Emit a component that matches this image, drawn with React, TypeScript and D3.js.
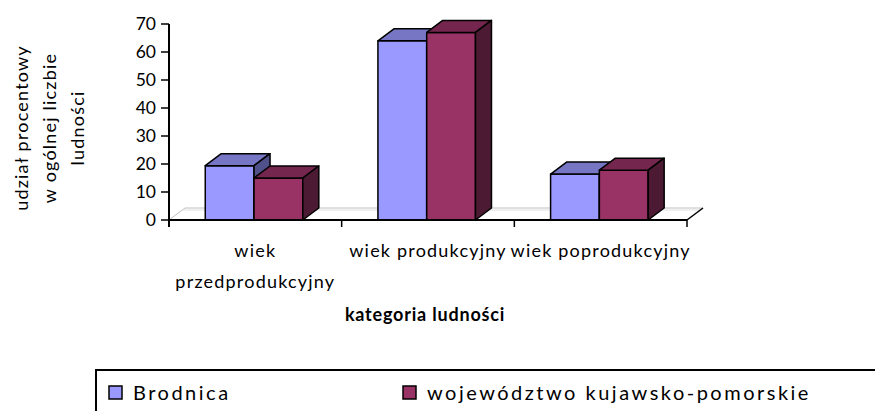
import React from "react";
import * as d3 from "d3";

const categories = ["wiek przedprodukcyjny", "wiek produkcyjny", "wiek poprodukcyjny"];
const categoryLines = [["wiek", "przedprodukcyjny"], ["wiek produkcyjny"], ["wiek poprodukcyjny"]];
const seriesNames = ["Brodnica", "województwo kujawsko-pomorskie"];
const brodnica = [19.4, 64.0, 16.4];
const kujawskoPomorskie = [15.0, 67.0, 17.8];
const yTicks = [0, 10, 20, 30, 40, 50, 60, 70];
const yTitle = ["udział procentowy", "w ogólnej liczbie", "ludności"];
const xTitle = "kategoria ludności";

const FONT = "Lato, 'Open Sans', sans-serif";
const W = 875;
const H = 411;
const left = 169;
const right = 687;
const top = 24;
const bottom = 220;
const DX = 16; // 3d depth
const DY = 12;

const palette = [
  { front: "#9999FF", top: "#7676C4", side: "#50508A" },
  { front: "#993366", top: "#74264F", side: "#4D1A33" },
];

export default function App() {
  const values = [brodnica, kujawskoPomorskie];

  const x = d3.scaleBand().domain(categories).range([left, right]);
  const bw = x.bandwidth();
  const inner = d3.scaleBand().domain(seriesNames).range([bw * 0.21, bw * 0.775]);
  const y = d3.scaleLinear().domain([0, 70]).range([bottom, top]);
  const y0 = y(0);

  const pts = (p: number[][]) => p.map((d) => d.join(",")).join(" ");

  return (
    <svg width={W} height={H} style={{ position: "absolute", left: 0, top: 0, fontFamily: FONT }}>
      <rect width={W} height={H} fill="#fff" />

      {/* floor */}
      <line x1={left} y1={y0} x2={left + DX} y2={y0 - DY} stroke="#c0c0c0" strokeWidth={1} />
      <line x1={left + DX} y1={y0 - DY} x2={right + DX} y2={y0 - DY} stroke="#c0c0c0" strokeWidth={1} />
      <line x1={left + DX - 2} y1={y0 - DY + 2} x2={right + DX - 2} y2={y0 - DY + 2} stroke="#e0e0e0" strokeWidth={1} />
      <line x1={right} y1={y0} x2={right + DX} y2={y0 - DY} stroke="#000" strokeWidth={1.5} />

      {/* bars */}
      {categories.map((c, i) => (
        <g key={c}>
          {seriesNames.map((s, j) => {
            const x0 = (x(c) as number) + (inner(s) as number);
            const w = inner.bandwidth();
            const yt = y(values[j][i]);
            const col = palette[j];
            return (
              <g key={s} stroke="#000" strokeWidth={1.5} strokeLinejoin="round">
                <rect x={x0} y={yt} width={w} height={y0 - yt} fill={col.front} />
                <polygon
                  points={pts([[x0, yt], [x0 + DX, yt - DY], [x0 + w + DX, yt - DY], [x0 + w, yt]])}
                  fill={col.top}
                />
                <polygon
                  points={pts([[x0 + w, yt], [x0 + w + DX, yt - DY], [x0 + w + DX, y0 - DY], [x0 + w, y0]])}
                  fill={col.side}
                />
              </g>
            );
          })}
        </g>
      ))}

      {/* axes */}
      <line x1={left} y1={y(70)} x2={left} y2={y0 + 7} stroke="#000" strokeWidth={2} />
      <line x1={left} y1={y0} x2={right} y2={y0} stroke="#000" strokeWidth={2} />
      {yTicks.map((t) => (
        <g key={t}>
          <line x1={left - 8} y1={y(t)} x2={left} y2={y(t)} stroke="#000" strokeWidth={1.5} />
          <text x={left - 13} y={y(t)} dy="0.36em" textAnchor="end" fontSize={17.5} fill="#000">
            {t}
          </text>
        </g>
      ))}
      {[...categories.map((c) => x(c) as number), right].map((px, i) => (
        <line key={i} x1={px} y1={y0} x2={px} y2={y0 + 7} stroke="#000" strokeWidth={1.5} />
      ))}

      {/* category labels */}
      {categories.map((c, i) => (
        <text
          key={c}
          x={(x(c) as number) + bw / 2}
          y={257}
          textAnchor="middle"
          fontSize={18}
          letterSpacing={1.2}
          fill="#000"
        >
          {categoryLines[i].map((ln, k) => (
            <tspan key={k} x={(x(c) as number) + bw / 2} dy={k === 0 ? 0 : 31}>
              {ln}
            </tspan>
          ))}
        </text>
      ))}

      <text
        x={(left + right) / 2 - 3}
        y={321}
        textAnchor="middle"
        fontSize={18}
        letterSpacing={0.8}
        fontWeight="bold"
        fill="#000"
      >
        {xTitle}
      </text>

      {/* y title */}
      {yTitle.map((t, k) => (
        <text
          key={k}
          transform={`translate(${22 + k * 28},128) rotate(-90)`}
          textAnchor="middle"
          dy="0.35em"
          fontSize={18}
          letterSpacing={1.2}
          fill="#000"
        >
          {t}
        </text>
      ))}

      {/* legend */}
      <rect x={96} y={370} width={800} height={60} fill="none" stroke="#000" strokeWidth={2} />
      {seriesNames.map((s, j) => {
        const lx = j === 0 ? 109 : 403;
        return (
          <g key={s}>
            <rect x={lx} y={386} width={13} height={13} fill={palette[j].front} stroke="#000" strokeWidth={1.5} />
            <text x={lx + 24} y={400} fontSize={20} letterSpacing={2.5} fill="#000">
              {s}
            </text>
          </g>
        );
      })}
    </svg>
  );
}
